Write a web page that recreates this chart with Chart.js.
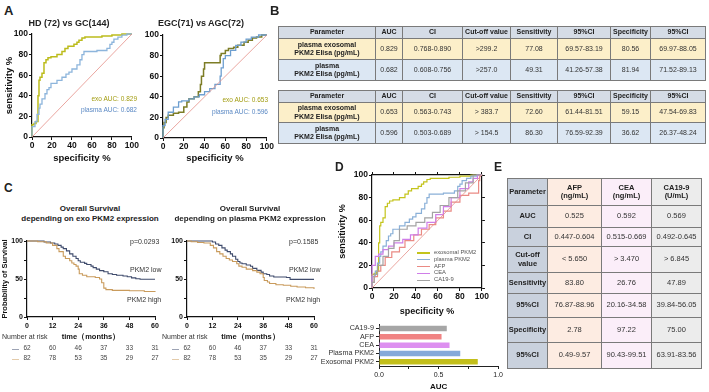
<!DOCTYPE html>
<html>
<head>
<meta charset="utf-8">
<title>PKM2 diagnostic figure</title>
<script src="https://cdn.jsdelivr.net/npm/chart.js"></script>
<style>
  body { margin: 0; background: #fff; }
  #fig { position: relative; width: 709px; height: 392px; overflow: hidden;
         font-family: "Liberation Sans", Arial, sans-serif; color: #222; }
  #fig canvas { position: absolute; }
  .t { position: absolute; white-space: nowrap; line-height: 1; }
  .tbl { position: absolute; border-collapse: collapse; table-layout: fixed; border: 1.5px solid #555; }
  .tbl td { border: 1px solid #7a7a7a; padding: 0; text-align: center; vertical-align: middle;
            overflow: hidden; white-space: nowrap; line-height: 8.5px; color: #333; }
</style>
</head>
<body>
<div id="fig">
  <canvas id="rocA1" width="140" height="142" style="left:0px;top:25px"></canvas>
  <canvas id="rocA2" width="140" height="142" style="left:135px;top:25px"></canvas>
  <canvas id="kmC1" width="170" height="115" style="left:0px;top:228px"></canvas>
  <canvas id="kmC2" width="170" height="115" style="left:160px;top:228px"></canvas>
  <canvas id="rocD" width="155" height="152" style="left:335px;top:165px"></canvas>
  <canvas id="barD" width="187" height="74" style="left:318px;top:318px"></canvas>
</div>
<script>
// ---- data ----
// ROC curves: [100 - specificity %, sensitivity %]
const rocExoHdGc = [[0,0],[0,10],[2,12],[4,13],[6,15],[6,25],[7,40],[8,55],[10,58],[12,62],[12,68],[14,72],[16,75],[19,77],[25,78],[30,80],[33,83],[36,86],[42,88],[45,90],[47,92],[50,94],[53,96],[60,97],[70,97],[80,98],[90,99],[100,100]];
const rocPlasmaHdGc = [[0,0],[0,5],[3,10],[5,15],[7,22],[8,28],[10,32],[13,37],[15,42],[17,46],[19,48],[25,52],[30,55],[34,58],[37,61],[40,63],[45,66],[48,70],[50,75],[52,80],[55,83],[65,83],[75,84],[78,86],[80,90],[82,92],[86,95],[90,97],[95,99],[100,100]];
const rocExoEgcAgc = [[0,0],[0,3],[1,10],[3,15],[5,20],[10,22],[15,24],[20,25],[23,30],[25,35],[30,38],[34,40],[36,45],[37,52],[39,60],[40,67],[41,73],[55,73],[56,80],[60,82],[63,85],[68,87],[72,88],[78,90],[82,93],[86,95],[90,97],[95,98],[100,100]];
const rocPlasmaEgcAgc = [[0,0],[0,5],[2,12],[5,18],[10,25],[15,30],[18,35],[25,36],[30,38],[35,40],[40,42],[45,45],[50,48],[55,52],[56,60],[58,68],[60,77],[65,80],[70,85],[75,90],[80,93],[85,96],[92,98],[100,100]];
const rocAfp = [[0,0],[2,5],[5,10],[8,15],[12,20],[18,27],[25,32],[30,36],[38,42],[45,47],[52,52],[58,56],[65,62],[72,68],[80,76],[88,82],[95,84],[97,84],[98,95],[100,100]];
const rocCea = [[0,0],[0,20],[3,20],[3,27],[6,28],[10,30],[15,34],[20,37],[28,40],[35,43],[42,47],[50,53],[58,58],[65,65],[72,72],[80,80],[88,88],[92,94],[96,97],[100,100]];
const rocCa199 = [[0,0],[2,5],[5,12],[10,20],[15,28],[20,35],[25,42],[25,48],[32,52],[40,55],[48,58],[55,62],[62,67],[70,73],[78,80],[85,86],[92,93],[100,100]];
const diagonal = [[0,0],[100,100]];

// Kaplan-Meier: [month, survival %]
const kmExoLow = [[0,100],[8,98.7],[11,97.4],[13,96],[14.5,94.3],[16,92],[17,90],[18.5,87],[20,83],[21.5,80],[23,77],[24,74],[25,72],[27,70.5],[28,69],[30,67],[31,65],[32.5,63],[34,61],[36,59.5],[38,57],[40,56],[42,55],[45,54],[47,53],[49,51.5],[51,50.4],[53,49.6],[60,49.6]];
const kmExoHigh = [[0,100],[5,99],[9,97.4],[12,94.3],[14,90],[15,86],[17,80],[18,77],[20,74],[21,71],[22,69],[23,67],[24,63],[24.5,57],[26,55],[28,53],[32,52],[34,50],[35,45],[36,38],[37,36],[40,35],[48,34.5],[55,33.5],[60,33]];
const kmPlasmaLow = [[0,100],[12,98.7],[13.5,96],[15,94.3],[16.5,91],[18,88],[19,86],[20.5,83],[21.5,80],[23,76],[24,73],[25,71],[26,70],[28,68.5],[30,66.7],[31,64],[33,61.4],[35,59],[36,57],[37.7,56],[39,54],[41,52.6],[47,52],[48.7,49.5],[60,49.5]];
const kmPlasmaHigh = [[0,100],[2,99],[5,98],[8,97.4],[11,94.3],[12.5,91],[14,86],[15.5,83],[17,80],[18.5,77],[20,75],[21.5,73],[23.5,70],[24.5,67],[26,65.5],[28,63],[31,61],[33,59],[34.5,57],[36,52],[36.5,48],[38,46],[39,44],[42,42.5],[45.5,41.7],[49,40.5],[52,39.5],[56,38.5],[60,37]];
const riskMonths = [0, 12, 24, 36, 48, 60];
const riskLow = [62, 60, 46, 37, 33, 31];
const riskHigh = [82, 78, 53, 35, 29, 27];

// AUC bars
const barLabels = ['CA19-9', 'AFP', 'CEA', 'Plasma PKM2', 'Exosomal PKM2'];
const barAuc = [0.569, 0.525, 0.592, 0.682, 0.829];
const barColors = ['#a6a6a6', '#f08383', '#dd8ff0', '#86a9d9', '#c3bf1a'];

// tables
const tabBHead = ['Parameter', 'AUC', 'CI', 'Cut-off value', 'Sensitivity', '95%CI', 'Specificity', '95%CI'];
const tabB1Rows = [
  ['plasma exosomal<br>PKM2 Elisa (pg/mL)', '0.829', '0.768-0.890', '>299.2', '77.08', '69.57-83.19', '80.56', '69.97-88.05'],
  ['plasma<br>PKM2 Elisa (pg/mL)', '0.682', '0.608-0.756', '>257.0', '49.31', '41.26-57.38', '81.94', '71.52-89.13']
];
const tabB2Rows = [
  ['plasma exosomal<br>PKM2 Elisa (pg/mL)', '0.653', '0.563-0.743', '> 383.7', '72.60', '61.44-81.51', '59.15', '47.54-69.83'],
  ['plasma<br>PKM2 Elisa (pg/mL)', '0.596', '0.503-0.689', '> 154.5', '86.30', '76.59-92.39', '36.62', '26.37-48.24']
];
const tabEHead = ['Parameter', 'AFP<br>(ng/mL)', 'CEA<br>(ng/mL)', 'CA19-9<br>(U/mL)'];
const tabERows = [
  ['AUC', '0.525', '0.592', '0.569'],
  ['CI', '0.447-0.604', '0.515-0.669', '0.492-0.645'],
  ['Cut-off<br>value', '< 5.650', '> 3.470', '> 6.845'],
  ['Sensitivity', '83.80', '26.76', '47.89'],
  ['95%CI', '76.87-88.96', '20.16-34.58', '39.84-56.05'],
  ['Specificity', '2.78', '97.22', '75.00'],
  ['95%CI', '0.49-9.57', '90.43-99.51', '63.91-83.56']
];

// ---- helpers ----
const fig = document.getElementById('fig');
Chart.defaults.font.family = '"Liberation Sans", Arial, sans-serif';
Chart.defaults.color = '#111';
Chart.defaults.animation = false;
Chart.defaults.responsive = false;
Chart.defaults.plugins.legend.display = false;
Chart.defaults.plugins.tooltip.enabled = false;

function txt(s, x, y, opt) {
  opt = opt || {};
  const d = document.createElement('div');
  d.className = 't';
  d.innerHTML = s;
  d.style.left = x + 'px';
  d.style.top = y + 'px';
  d.style.fontSize = (opt.size || 7) + 'px';
  if (opt.bold) d.style.fontWeight = 'bold';
  if (opt.color) d.style.color = opt.color;
  const ax = opt.align === 'c' ? '-50%' : opt.align === 'r' ? '-100%' : '0';
  d.style.transform = 'translate(' + ax + ',-50%)';
  fig.appendChild(d);
  return d;
}

function axis(o) {
  const a = {
    type: 'linear', position: o.pos, min: o.min, max: o.max,
    ticks: { stepSize: o.step, autoSkip: false, maxRotation: 0, padding: o.tpad === undefined ? 1 : o.tpad,
             display: o.labels !== false, font: { size: o.font || 8, weight: 'bold' }, color: '#111' },
    grid: { drawOnChartArea: false, drawTicks: true, tickLength: o.tl || 3, color: '#111', lineWidth: 1 },
    border: { display: true, color: '#111', width: o.bw || 1.2 },
    title: { display: !!o.title, text: o.title || '', font: { size: o.tsize || 9, weight: 'bold' },
             color: '#111', padding: o.titlePad || 0 },
    afterFit: function (s) { if (s.isHorizontal()) s.height = o.size; else s.width = o.size; }
  };
  if (o.cb) a.ticks.callback = o.cb;
  return a;
}

function line(arr, color, width, stepped) {
  return { data: arr.map(p => ({ x: p[0], y: p[1] })), borderColor: color, borderWidth: width,
           pointRadius: 0, fill: false, tension: 0, stepped: stepped, clip: 3 };
}

function plot(id, datasets, scales, pad) {
  return new Chart(document.getElementById(id), {
    type: 'line',
    data: { datasets: datasets },
    options: { devicePixelRatio: 1, layout: { padding: pad }, scales: scales }
  });
}

function table(x, y, widths, heights, rows, style) {
  const t = document.createElement('table');
  t.className = 'tbl';
  t.style.left = x + 'px';
  t.style.top = y + 'px';
  t.style.width = widths.reduce((a, b) => a + b, 0) + 'px';
  const cg = document.createElement('colgroup');
  widths.forEach(w => { const c = document.createElement('col'); c.style.width = w + 'px'; cg.appendChild(c); });
  t.appendChild(cg);
  rows.forEach((r, i) => {
    const tr = t.insertRow();
    tr.style.height = heights[i] + 'px';
    r.forEach((v, j) => { const td = tr.insertCell(); td.innerHTML = v; style(td, i, j); });
  });
  fig.appendChild(t);
}

// ---- panel A ----
txt('A', 4, 10, { size: 13, bold: true });
txt('HD (72) vs GC(144)', 69, 23, { size: 9, bold: true, align: 'c' });
txt('EGC(71) vs AGC(72)', 201, 23, { size: 9, bold: true, align: 'c' });

plot('rocA1', [
  line(diagonal, '#e58f88', 0.8, false),
  line(rocPlasmaHdGc, '#8db5dc', 1.3, 'after'),
  line(rocExoHdGc, '#bcbc1c', 1.5, 'after')
], {
  x: axis({ pos: 'bottom', min: 0, max: 100, step: 20, size: 30, font: 8.5, title: 'specificity %', tsize: 9.5, titlePad: { top: 0, bottom: 3 } }),
  y: axis({ pos: 'left', min: 0, max: 100, step: 20, size: 32, font: 8.5, title: 'sensitivity %', tsize: 9.5, titlePad: { top: 4, bottom: 0 } })
}, { top: 9, right: 3 });
txt('exo AUC: 0.829', 137, 99, { size: 6.5, color: '#a29c10', align: 'r' });
txt('plasma AUC: 0.682', 137, 110, { size: 6.5, color: '#5b89c4', align: 'r' });

plot('rocA2', [
  line(diagonal, '#e58f88', 0.8, false),
  line(rocPlasmaEgcAgc, '#6e9fd0', 1.3, 'after'),
  line(rocExoEgcAgc, '#7d7d26', 1.5, 'after')
], {
  x: axis({ pos: 'bottom', min: 0, max: 100, step: 20, size: 29, font: 8.5, title: 'specificity %', tsize: 9.5, titlePad: { top: 0, bottom: 3 } }),
  y: axis({ pos: 'left', min: 0, max: 100, step: 20, size: 28, font: 8.5 })
}, { top: 10, right: 8 });
txt('exo AUC: 0.653', 268, 100, { size: 6.5, color: '#a29c10', align: 'r' });
txt('plasma AUC: 0.596', 268, 112, { size: 6.5, color: '#5b89c4', align: 'r' });

// ---- panel B ----
txt('B', 270, 10, { size: 13, bold: true });
const colB = [97, 27, 60, 48, 47, 53, 40, 55];
const rowBg = ['#d5dce6', '#fcefc9', '#dce7f3'];
function styleB(td, i, j) {
  td.style.background = rowBg[i];
  td.style.fontSize = '7px';
  if (i === 0 || j === 0) { td.style.fontWeight = 'bold'; td.style.color = '#222'; }
}
table(278, 26, colB, [12, 21, 21], [tabBHead].concat(tabB1Rows), styleB);
table(278, 90, colB, [12, 20, 21], [tabBHead].concat(tabB2Rows), styleB);

// ---- panel C ----
txt('C', 4, 188, { size: 12, bold: true });
const kmSets = [
  { id: 'kmC1', left: 0, low: kmExoLow, high: kmExoHigh, name: 'exo', p: 'p=0.0293', ytitle: 'Probability of Survival', pad: 15, cx: 90 },
  { id: 'kmC2', left: 160, low: kmPlasmaLow, high: kmPlasmaHigh, name: 'plasma', p: 'p=0.1585', ytitle: '', pad: 16, cx: 250 }
];
kmSets.forEach(k => {
  txt('Overall Survival', k.cx, 209, { size: 8, bold: true, align: 'c' });
  txt('depending on ' + k.name + ' PKM2 expression', k.cx, 219, { size: 8, bold: true, align: 'c' });
  const ch = plot(k.id, [
    line(k.high, '#c99b5c', 1.1, true),
    line(k.low, '#3f4b6c', 1.1, true)
  ], {
    x: axis({ pos: 'bottom', min: 0, max: 60, step: 12, size: 26, font: 7, tpad: 2, title: 'time（months）', tsize: 7.5, titlePad: { top: 0, bottom: 2 } }),
    y: axis({ pos: 'left', min: 0, max: 100, step: 25, size: 27, font: 7, title: k.ytitle, tsize: 7.5,
              cb: v => (v % 50 === 0 ? v : '') })
  }, { top: 13, right: k.pad });
  const sx = ch.scales.x;
  const right = k.left + sx.right;
  txt(k.p, right - 25, 241, { size: 7, color: '#333' });
  txt('PKM2 low', right - 25, 269, { size: 7, color: '#333' });
  txt('PKM2 high', right - 28, 299, { size: 7, color: '#333' });
  txt('Number at risk', k.left + 2, 336, { size: 7, color: '#333' });
  txt('—', k.left + 12, 348, { size: 7, color: '#3f4b6c' });
  txt('—', k.left + 12, 358, { size: 7, color: '#c99b5c' });
  riskMonths.forEach((m, i) => {
    const px = k.left + sx.getPixelForValue(m);
    txt(String(riskLow[i]), px, 348, { size: 6.5, color: '#444', align: 'c' });
    txt(String(riskHigh[i]), px, 358, { size: 6.5, color: '#444', align: 'c' });
  });
});

// ---- panel D ----
txt('D', 335, 167, { size: 12, bold: true });
const dSeries = [
  { name: 'exosomal PKM2', data: rocExoHdGc, color: '#c4c41c' },
  { name: 'plasma PKM2', data: rocPlasmaHdGc, color: '#8ab0d8' },
  { name: 'AFP', data: rocAfp, color: '#ea8a84' },
  { name: 'CEA', data: rocCea, color: '#cf7ee8' },
  { name: 'CA19-9', data: rocCa199, color: '#a3a3a3' }
];
const dSets = [line(diagonal, '#e58f88', 0.8, false)];
dSeries.slice().reverse().forEach(s => dSets.push(line(s.data, s.color, 1.2, 'after')));
plot('rocD', dSets, {
  x: axis({ pos: 'bottom', min: 0, max: 100, step: 20, size: 29, font: 8.5, title: 'specificity %', tsize: 9 }),
  y: axis({ pos: 'left', min: 0, max: 100, step: 20, size: 37, font: 8.5, title: 'sensitivity %', tsize: 9, titlePad: { top: 2.5, bottom: 0 } }),
  x2: axis({ pos: 'top', min: 0, max: 100, step: 20, size: 4, labels: false }),
  y2: axis({ pos: 'right', min: 0, max: 100, step: 20, size: 4, labels: false })
}, { top: 6, right: 3 });
dSeries.forEach((s, i) => {
  const y = 253 + i * 6.8;
  const ln = document.createElement('div');
  ln.style.cssText = 'position:absolute;left:417px;top:' + (y - 0.6) + 'px;width:13px;height:1.3px;background:' + s.color;
  fig.appendChild(ln);
  txt(s.name, 434, y, { size: 5.8, color: '#555' });
});

new Chart(document.getElementById('barD'), {
  type: 'bar',
  data: { labels: barLabels, datasets: [{ data: barAuc, backgroundColor: barColors, barPercentage: 0.66, categoryPercentage: 1 }] },
  options: {
    devicePixelRatio: 1, indexAxis: 'y', layout: { padding: { top: 4, right: 6 } },
    scales: {
      x: { min: 0, max: 1,
           ticks: { stepSize: 0.25, autoSkip: false, maxRotation: 0, padding: 2, color: '#222', font: { size: 7 },
                    callback: v => ((v * 2) % 1 === 0 ? v.toFixed(1) : '') },
           grid: { drawOnChartArea: false, tickLength: 3, color: '#222' },
           border: { color: '#222', width: 1 },
           title: { display: true, text: 'AUC', font: { size: 8, weight: 'bold' }, color: '#111', padding: 0 },
           afterFit: s => { s.height = 26; } },
      y: { ticks: { autoSkip: false, padding: 2, color: '#333', font: { size: 7.2 } },
           grid: { drawOnChartArea: false, tickLength: 3, offset: false, color: '#222' },
           border: { color: '#222', width: 1 },
           afterFit: s => { s.width = 61; } }
    }
  }
});

// ---- panel E ----
txt('E', 494, 167, { size: 12, bold: true });
const colBgE = ['#c9d1dd', '#fdece2', '#fbeef9', '#ececec'];
table(507, 178, [40, 54, 50, 50], [27, 22, 19, 26, 21, 24, 25, 26], [tabEHead].concat(tabERows), (td, i, j) => {
  td.style.background = colBgE[j];
  td.style.fontSize = '7.5px';
  if (i === 0 || j === 0) { td.style.fontWeight = 'bold'; td.style.color = '#222'; }
});
</script>
</body>
</html>
